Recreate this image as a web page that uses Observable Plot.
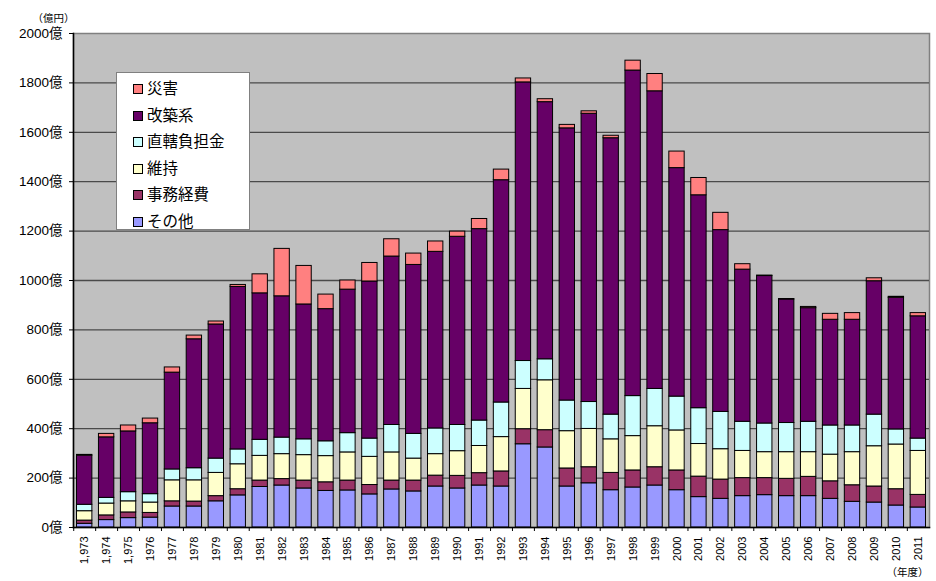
<!DOCTYPE html>
<html><head><meta charset="utf-8">
<script src="https://cdn.jsdelivr.net/npm/d3@7"></script>
<script src="https://cdn.jsdelivr.net/npm/@observablehq/plot@0.6"></script>
<style>
body{margin:0;background:#fff;}
#wrap{position:relative;width:936px;height:581px;}
#legend{position:absolute;left:116px;top:72px;width:134px;height:158px;background:#fff;border:1px solid #808080;box-sizing:border-box;font-family:'Noto Sans CJK JP',sans-serif;font-size:15.5px;color:#000;}
#legend .it{position:absolute;left:16px;height:20px;line-height:20px;white-space:nowrap;}
#legend .sw{display:inline-block;width:8px;height:8px;border:1px solid #000;margin-right:4px;vertical-align:0px;}
</style></head><body>
<div id="wrap"><div id="legend"></div></div>
<script>
const years = ["1,973","1,974","1,975","1976","1977","1978","1979","1980","1981","1982","1983","1984","1985","1986","1987","1988","1989","1990","1991","1992","1993","1994","1995","1996","1997","1998","1999","2000","2001","2002","2003","2004","2005","2006","2007","2008","2009","2010","2011"];
// bottom -> top
const sonota   = [15,30,38,40,85,85,106,130,164,170,158,148,150,134,154,146,166,158,170,166,337,324,166,179,151,162,170,151,123,116,127,131,127,127,116,104,101,89,81];
const jimu     = [13,19,23,19,21,20,21,25,26,26,32,35,40,38,36,44,44,51,50,61,61,70,73,65,70,69,74,80,83,78,73,69,70,78,71,67,65,66,51];
const iji      = [38,48,45,42,85,86,94,101,100,101,103,106,114,114,114,89,87,100,110,139,163,202,151,155,136,139,166,162,132,123,110,105,108,100,108,134,163,181,178];
const chokkatsu= [26,23,37,34,44,49,58,60,65,67,64,60,78,74,111,100,104,106,103,140,113,85,124,109,100,162,151,137,145,151,118,116,118,123,118,108,128,61,50];
const kaichiku = [199,245,246,287,392,522,543,658,593,572,546,535,581,636,682,684,715,762,775,900,1128,1041,1102,1167,1119,1318,1205,925,862,736,616,597,500,460,428,428,540,533,495];
const saigai   = [3,14,24,19,21,15,12,8,77,192,156,59,37,75,70,46,42,21,41,43,16,12,14,10,10,40,70,67,70,70,22,2,2,5,24,27,12,4,13];
const seriesNames = ["その他","事務経費","維持","直轄負担金","改築系","災害"];
const seriesValues = [sonota, jimu, iji, chokkatsu, kaichiku, saigai];
const seriesColors = ["#9999FF","#993366","#FFFFCC","#CCFFFF","#660066","#FF8080"];
const yTicks = [0,200,400,600,800,1000,1200,1400,1600,1800,2000];

const data = [];
seriesNames.forEach((s,i)=>years.forEach((y,j)=>data.push({year:y, series:s, value:seriesValues[i][j]})));

const W=936,H=581,mL=73,mR=7,mT=33,mB=54;
const pIn=0.3,pOut=0.16;
const step = d3.scaleBand().domain(years).range([mL,W-mR]).paddingInner(pIn).paddingOuter(pOut).step();

const chart = Plot.plot({
  width:W, height:H, marginLeft:mL, marginRight:mR, marginTop:mT, marginBottom:mB,
  style:{fontFamily:"'Liberation Sans','Noto Sans CJK JP',sans-serif", background:"transparent", color:"#000"},
  x:{type:"band", domain:years, paddingInner:pIn, paddingOuter:pOut, label:null},
  y:{domain:[0,2000], label:null},
  color:{domain:seriesNames, range:seriesColors},
  marks:[
    Plot.frame({fill:"#C0C0C0", stroke:"#808080", strokeWidth:1.5}),
    Plot.ruleY(yTicks.slice(1,-1), {stroke:"#4a4a4a", strokeWidth:1.3}),
    Plot.barY(data, {x:"year", y:"value", z:"series", fill:"series", order:seriesNames, stroke:"#000", strokeWidth:1}),
    Plot.frame({anchor:"left", stroke:"#000", strokeWidth:1.5}),
    Plot.frame({anchor:"bottom", stroke:"#000", strokeWidth:1.5}),
    Plot.axisY({ticks:yTicks, tickFormat:d=>d+"億", tickSize:4, tickPadding:7, fontSize:13.5, label:null}),
    Plot.axisX({tickSize:0, tickPadding:9, tickRotate:-90, fontSize:11, label:null}),
    Plot.axisX({tickSize:4, tickFormat:()=>"", dx:-step/2, label:null}),
    Plot.text(["（億円）"], {frameAnchor:"top-left", dx:-41, dy:-19, textAnchor:"start", fontSize:10.5, fontFamily:"'Noto Sans CJK JP',sans-serif"}),
    Plot.text(["（年度）"], {frameAnchor:"bottom-right", dx:-1, dy:48, textAnchor:"end", fontSize:10.5, fontFamily:"'Noto Sans CJK JP',sans-serif"})
  ]
});
chart.style.position="absolute"; chart.style.left="0"; chart.style.top="0";
const wrap=document.getElementById("wrap");
wrap.insertBefore(chart, wrap.firstChild);

// legend (top -> bottom order as in reference)
const lg=document.getElementById("legend");
const legendOrder=[5,4,3,2,1,0];
legendOrder.forEach((k,i)=>{
  const d=document.createElement("div"); d.className="it"; d.style.top=(4+i*26.6)+"px";
  d.innerHTML=`<span class="sw" style="background:${seriesColors[k]}"></span>${seriesNames[k]}`;
  lg.appendChild(d);
});
</script></body></html>
